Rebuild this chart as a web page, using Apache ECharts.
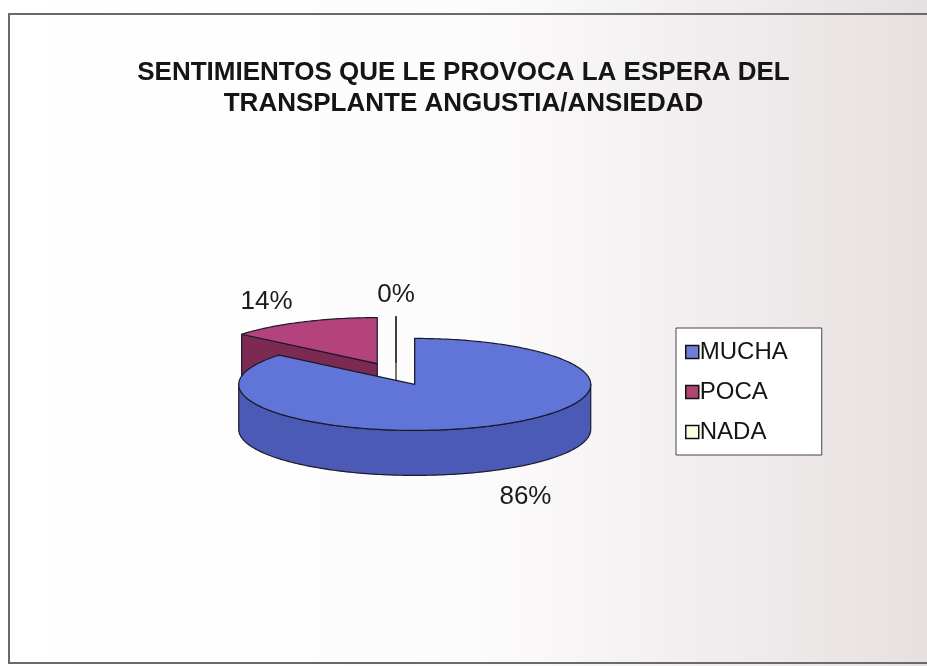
<!DOCTYPE html>
<html>
<head>
<meta charset="utf-8">
<script src="https://cdn.jsdelivr.net/npm/echarts@6/dist/echarts.min.js"></script>
<style>
  html, body { margin: 0; padding: 0; background: #fff; }
  #main { width: 927px; height: 666px; }
</style>
</head>
<body>
<div id="main"></div>
<script>
// datos del grafico
const categories = ['MUCHA', 'POCA', 'NADA'];
const values = [86, 14, 0]; // porcentajes

// colores (cara superior, lateral, leyenda)
const topColors = ['#6174d8', '#b4427c', '#ffffe8'];
const sideColors = ['#4b5ab5', '#7d2a52', '#d8d8c0'];
const legendColors = ['#6f7fd8', '#b04472', '#ffffe0'];

// geometria de la tarta 3D
const CX = 396, CY = 374;   // centro sin separar
const RX = 176, RY = 46;    // radios de la elipse
const DEPTH = 45;           // grosor
const EXPLODE = 44;         // separacion de porciones
const LRX = 260, LRY = 68;  // radio de las etiquetas

const total = values.reduce((a, b) => a + b, 0);
const starts = [];
values.reduce((acc, v, i) => { starts[i] = acc; return acc + v; }, 0);

function renderSlice(i) {
  return function (params, api) {
    const v = api.value(0);
    const a0 = starts[i] / total * Math.PI * 2;
    const a1 = a0 + v / total * Math.PI * 2;
    const mid = (a0 + a1) / 2;
    const cx = CX + Math.sin(mid) * EXPLODE;
    const cy = CY - Math.cos(mid) * EXPLODE * RY / RX;
    const pt = (t, dy) => [cx + RX * Math.sin(t), cy - RY * Math.cos(t) + dy];
    const arc = (from, to, dy) => {
      const n = Math.max(2, Math.ceil(Math.abs(to - from) / 0.02));
      const out = [];
      for (let k = 0; k <= n; k++) out.push(pt(from + (to - from) * k / n, dy));
      return out;
    };
    const line = { stroke: '#1a1a2a', lineWidth: 1.2, lineJoin: 'round' };
    const children = [];

    // pared exterior visible (mitad delantera)
    const w0 = Math.max(a0, Math.PI / 2), w1 = Math.min(a1, Math.PI * 1.5);
    if (w1 > w0) {
      children.push({
        type: 'polygon', z2: 1,
        shape: { points: arc(w0, w1, 0).concat(arc(w1, w0, DEPTH)) },
        style: Object.assign({ fill: sideColors[i] }, line)
      });
    }
    // caras de corte
    const face = (t) => [[cx, cy], pt(t, 0), pt(t, DEPTH), [cx, cy + DEPTH]];
    if (Math.sin(a0) <= 1e-9) {
      children.push({ type: 'polygon', z2: 2, shape: { points: face(a0) },
        style: Object.assign({ fill: sideColors[i] }, line) });
    }
    if (Math.sin(a1) > 1e-9) {
      children.push({ type: 'polygon', z2: 2, shape: { points: face(a1) },
        style: Object.assign({ fill: sideColors[i] }, line) });
    }
    // cara superior
    children.push({
      type: 'polygon', z2: 3,
      shape: { points: [[cx, cy]].concat(arc(a0, a1, 0)) },
      style: Object.assign({ fill: topColors[i] }, line)
    });
    // etiqueta
    const lx = cx + LRX * Math.sin(mid);
    const ly = cy - LRY * Math.cos(mid) + (Math.cos(mid) < 0 ? DEPTH + 6 : 0);
    children.push({
      type: 'text', z2: 10, x: lx, y: ly,
      style: {
        text: v + '%', fill: '#1c1c1c', fontSize: 26, fontFamily: 'Arial',
        align: 'center', verticalAlign: 'middle'
      }
    });
    return { type: 'group', children: children };
  };
}

const chart = echarts.init(document.getElementById('main'), null, { renderer: 'canvas' });

const option = {
  animation: false,
  backgroundColor: new echarts.graphic.LinearGradient(0, 0, 1, 0, [
    { offset: 0, color: '#ffffff' },
    { offset: 0.5, color: '#fdfcfc' },
    { offset: 1, color: '#e7e0e1' }
  ]),
  color: legendColors,
  title: {
    text: 'SENTIMIENTOS QUE LE PROVOCA LA ESPERA DEL\nTRANSPLANTE ANGUSTIA/ANSIEDAD',
    left: 'center',
    top: 57,
    padding: 0,
    textStyle: {
      fontSize: 26, fontWeight: 'bold', fontFamily: 'Arial',
      color: '#151515', lineHeight: 31
    }
  },
  legend: {
    orient: 'vertical',
    left: 676,
    top: 328,
    data: categories,
    icon: 'rect',
    itemWidth: 13,
    itemHeight: 13,
    itemGap: 16,
    padding: [12, 34, 11, 9],
    backgroundColor: '#ffffff',
    borderColor: '#444',
    borderWidth: 1,
    itemStyle: { borderColor: '#111', borderWidth: 1.5 },
    textStyle: { fontSize: 24, fontFamily: 'Arial', color: '#151515', padding: [0, 0, 0, -4] }
  },
  graphic: [{
    type: 'rect', z: -1, silent: true,
    shape: { x: 9, y: 14, width: 940, height: 649 },
    style: { fill: 'none', stroke: '#6a6a6a', lineWidth: 2 }
  }],
  series: categories.map((name, i) => ({
    type: 'custom',
    name: name,
    coordinateSystem: 'none',
    z: [4, 2, 3][i],
    itemStyle: { color: legendColors[i] },
    data: [values[i]],
    renderItem: renderSlice(i)
  }))
};

chart.setOption(option);
</script>
</body>
</html>
